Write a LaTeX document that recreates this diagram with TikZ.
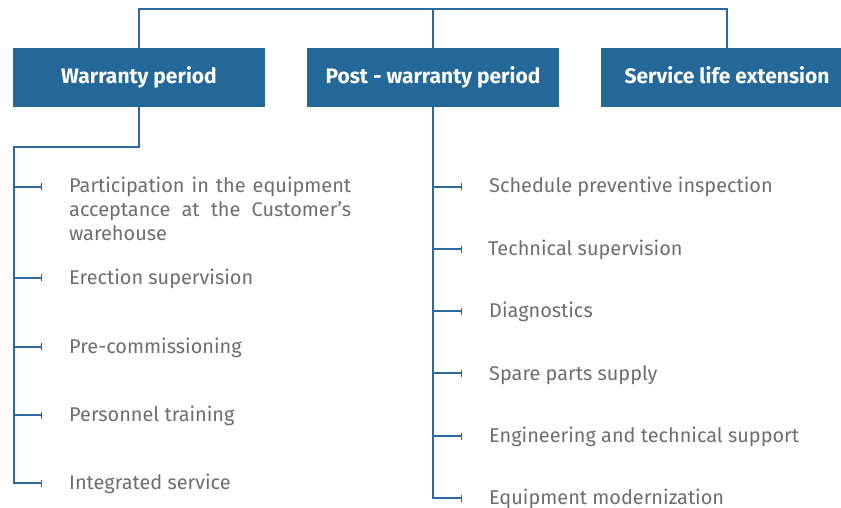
\documentclass[tikz,border=0pt]{standalone}
\usepackage{fontspec}
\setmainfont{Fira Sans}
\usetikzlibrary{arrows.meta}
\definecolor{boxblue}{HTML}{236899}
\definecolor{linecol}{HTML}{2A6AA0}
\definecolor{txtgray}{HTML}{6E6E6E}
\begin{document}
\begin{tikzpicture}[x=1pt,y=-1pt,
  hbox/.style={fill=boxblue,draw=none,inner sep=0pt},
  htext/.style={text=white,font=\fontsize{21}{24}\selectfont\bfseries,inner sep=0pt,anchor=base},
  item/.style={text=txtgray,font=\fontsize{19.9}{24}\selectfont,inner sep=0pt,anchor=base west},
  conn/.style={draw=linecol,line width=1.7pt},
  branch/.style={draw=linecol,line width=1.7pt,-{Bar[width=7pt,line width=1.5pt]}}
]
\useasboundingbox (0,0) rectangle (841,508);
% header boxes
\path[hbox] (13,48) rectangle (265,107);
\path[hbox] (307,48) rectangle (559,107);
\path[hbox] (601,48) rectangle (841,107);
\node[htext] (w) at (139,84) {Warranty period};
\node[htext] (p) at (433,84) {Post - warranty period};
\node[htext] (s) at (727,84) {Service life extension};
\coordinate (wtop) at (139,48);
\coordinate (ptop) at (433,48);
\coordinate (stop) at (727,48);
\coordinate (wbot) at (139,107);
\coordinate (pbot) at (433,107);
% top connector
\draw[conn] (wtop) |- (433,9) -| (stop);
\draw[conn] (433,9) -- (ptop);
% left column
\coordinate (lk) at (14,147);
\draw[conn] (wbot) |- (lk) -- (14,484);
\node[item,text width=282pt,align=justify] (l1) at (69,193) {\makebox[282pt][s]{Participation\hfill in\hfill the\hfill equipment}\\\makebox[282pt][s]{acceptance\hfill at\hfill the\hfill Customer’s}\\warehouse};
\node[item] (l2) at (69,284) {Erection supervision};
\node[item] (l3) at (69,353) {Pre-commissioning};
\node[item] (l4) at (69,421) {Personnel training};
\node[item] (l5) at (69,489.5) {Integrated service};
\foreach \n/\y in {l1/186.7,l2/277.7,l3/346.7,l4/415,l5/483}
  \draw[branch] (14,\y) -- (42,\y);
% right column
\draw[conn] (pbot) -- (433,499);
\node[item] (r1) at (489,193) {Schedule preventive inspection};
\node[item] (r2) at (488,255.5) {Technical supervision};
\node[item] (r3) at (489,317.5) {Diagnostics};
\node[item] (r4) at (489,380) {Spare parts supply};
\node[item] (r5) at (489,442.5) {Engineering and technical support};
\node[item] (r6) at (489,504) {Equipment modernization};
\foreach \n/\y in {r1/186.7,r2/249,r3/311,r4/373.3,r5/436,r6/498.3}
  \draw[branch] (433,\y) -- (462,\y);
\end{tikzpicture}
\end{document}
